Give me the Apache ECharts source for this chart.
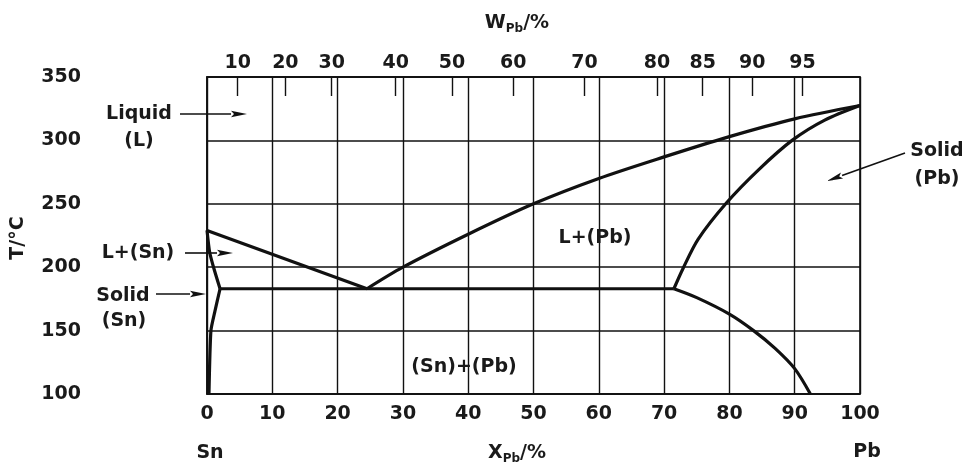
<!DOCTYPE html>
<html><head><meta charset="utf-8">
<script src="https://cdn.jsdelivr.net/npm/echarts@6/dist/echarts.min.js"></script>
<style>html,body{margin:0;padding:0;background:#fff}#c{width:967px;height:468px}</style>
</head><body><div id="c"></div>
<script>
// ---- data (X_Pb mole %, T in °C) ----
const liquidusSn = [[0,229],[24.5,183]];
const liquidusPb = [[24.5,183],[30,200],[40,226],[50,250],[60,270],[70,287],[80,303],[90,317],[100,327.5]];
const solidusPb  = [[71.5,183],[72.9,199],[75.2,222],[79.6,251],[84.5,277],[89.6,300],[94.6,316],[100,327.5]];
const solvusPb   = [[71.5,183],[75,176],[80,163],[83.7,150],[87,136],[90,120],[92.4,100]];
const solidusSn  = [[0,229],[0.4,212],[1.0,200],[2.0,183]];
const solvusSn   = [[2.0,183],[1.2,165],[0.6,150],[0.3,100]];
const eutectic   = [[2.0,183],[24.5,183],[71.5,183]];
// top (weight %) axis: tick labels and their positions on the mole-% scale
const wLabels = ['10','20','30','40','50','60','70','80','85','90','95'];
const wTickX  = [4.7,12.0,19.1,28.9,37.5,46.9,57.8,68.9,75.9,83.5,91.2];

const FONT = 'DejaVu Sans';
const TXT = '#1a1a1a';
const LINE = '#111';

function txt(text, x, y, extra) {
  return Object.assign({
    type: 'text', x: x, y: y, z: 10,
    style: Object.assign({
      text: text, fontSize: 19, fontWeight: 'bold', fontFamily: FONT, fill: TXT,
      align: 'center', verticalAlign: 'middle', textAlign: 'center', textVerticalAlign: 'middle'
    }, extra || {})
  });
}
function arrow(x1, y1, x2, y2) {
  const dx = x2 - x1, dy = y2 - y1, L = Math.hypot(dx, dy);
  const ux = dx / L, uy = dy / L, hl = 16, hw = 3.2;
  const bx = x2 - ux * hl, by = y2 - uy * hl;
  return [
    {type: 'line', z: 10, shape: {x1: x1, y1: y1, x2: bx, y2: by}, style: {stroke: LINE, lineWidth: 1.6}},
    {type: 'polygon', z: 10, shape: {points: [[x2, y2], [bx - uy * hw, by + ux * hw], [bx + ux * 3, by + uy * 3], [bx + uy * hw, by - ux * hw]]}, style: {fill: LINE}}
  ];
}

function phase(data, smooth) {
  return {
    type: 'line', data: data, showSymbol: false, smooth: smooth || 0,
    lineStyle: {color: LINE, width: 3.2}, z: 5, silent: true, animation: false
  };
}

const chart = echarts.init(document.getElementById('c'), null, {renderer: 'canvas'});
chart.setOption({
  backgroundColor: '#fff',
  animation: false,
  grid: {left: 207, right: 107, top: 77, bottom: 74, show: true, borderColor: LINE, borderWidth: 1.6, backgroundColor: 'transparent'},
  xAxis: [
    {
      type: 'value', min: 0, max: 100, interval: 10, position: 'bottom',
      axisLine: {show: true, lineStyle: {color: LINE, width: 1.6}},
      axisTick: {show: false},
      axisLabel: {margin: 11, color: TXT, fontSize: 19, fontWeight: 'bold', fontFamily: FONT},
      splitLine: {show: true, lineStyle: {color: LINE, width: 1.4}}
    },
    {
      type: 'value', min: 0, max: 100, position: 'top',
      axisLine: {show: true, lineStyle: {color: LINE, width: 1.6}},
      axisTick: {show: true, inside: true, length: 19, customValues: wTickX, lineStyle: {color: LINE, width: 1.4}},
      axisLabel: {
        margin: 4, color: TXT, fontSize: 19, fontWeight: 'bold', fontFamily: FONT,
        customValues: wTickX,
        formatter: function (v) {
          let best = 0;
          for (let i = 0; i < wTickX.length; i++) if (Math.abs(wTickX[i] - v) < Math.abs(wTickX[best] - v)) best = i;
          return wLabels[best];
        }
      },
      splitLine: {show: false}
    }
  ],
  yAxis: {
    type: 'value', min: 100, max: 350, interval: 50,
    axisLine: {show: true, lineStyle: {color: LINE, width: 1.6}},
    axisTick: {show: false},
    axisLabel: {margin: 126, color: TXT, fontSize: 19, fontWeight: 'bold', fontFamily: FONT},
    splitLine: {show: true, lineStyle: {color: LINE, width: 1.7}}
  },
  series: [
    phase(liquidusSn),
    phase(liquidusPb, 0.3),
    phase(solidusPb, 0.3),
    phase(solvusPb, 0.3),
    phase(solidusSn, 0.2),
    phase(solvusSn, 0.2),
    phase(eutectic)
  ],
  graphic: [
    txt('{a|W}{b|Pb}{a|/%}', 517, 23, {rich: {a: {fontSize: 19, fontWeight: 'bold', fontFamily: FONT, fill: TXT, lineHeight: 24}, b: {fontSize: 12, fontWeight: 'bold', fontFamily: FONT, fill: TXT, lineHeight: 14, verticalAlign: 'bottom'}}}),
    txt('{a|X}{b|Pb}{a|/%}', 517, 453, {rich: {a: {fontSize: 19, fontWeight: 'bold', fontFamily: FONT, fill: TXT, lineHeight: 24}, b: {fontSize: 12, fontWeight: 'bold', fontFamily: FONT, fill: TXT, lineHeight: 14, verticalAlign: 'bottom'}}}),
    txt('Sn', 210, 453),
    txt('Pb', 867, 452),
    Object.assign(txt('T/°C', 18, 238), {rotation: Math.PI / 2}),
    txt('Liquid', 139, 114),
    txt('(L)', 139, 141),
    txt('L+(Sn)', 138, 253),
    txt('Solid', 123, 296),
    txt('(Sn)', 124, 321),
    txt('Solid', 937, 151),
    txt('(Pb)', 937, 179),
    txt('L+(Pb)', 595, 238),
    txt('(Sn)+(Pb)', 464, 367)
  ].concat(arrow(180, 114, 247, 114))
   .concat(arrow(185, 253, 233, 253))
   .concat(arrow(156, 294, 206, 294))
   .concat(arrow(905, 153, 827, 181))
});
</script></body></html>
